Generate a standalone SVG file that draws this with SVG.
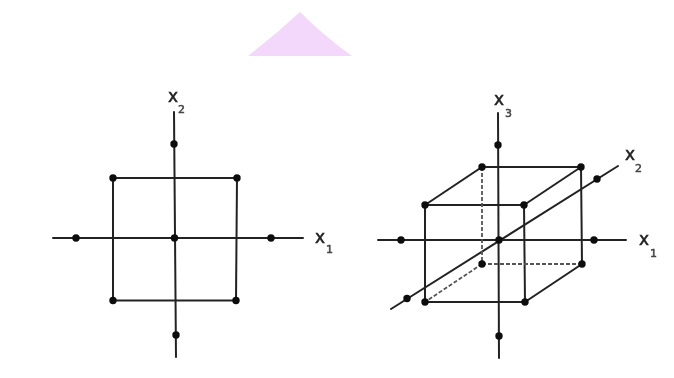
<svg xmlns="http://www.w3.org/2000/svg" width="674" height="378" viewBox="0 0 674 378">
<defs>
<style>
.l{fill:none;stroke:#222;stroke-width:2;stroke-linecap:round}
.d{fill:none;stroke:#555;stroke-width:1.800;stroke-dasharray:4 2}
.p{fill:#0c0c0c}
.t{font-family:"DejaVu Sans",sans-serif;fill:#222;stroke:#222;stroke-width:.5}
.m{font-size:17px}
.s{font-size:11px;fill:#444;stroke:#444}
</style>
<filter id="b" x="-5%" y="-5%" width="110%" height="110%"><feGaussianBlur stdDeviation="0.45"/></filter>
</defs>
<rect width="674" height="378" fill="#fff"/>
<path id="triangle" d="M300 12Q274 36 248 56H352Q324 36 300 12Z" fill="#f3d8fb"/>
<g filter="url(#b)">
<g id="connectors">
<g id="left-connectors">
<path class="l" d="M174 112L176 357M53 238H303"/>
<path class="l" d="M113 178H237L236 300.500H113Z"/>
</g>
<g id="right-connectors">
<path class="l" d="M498 113L499 358M378 240H626M391 309L618 166"/>
<path class="l" d="M425 205H524L525 302H425ZM425 205L482 167H581L582 264L525 302M524 205L581 167"/>
<path class="d" d="M482 167V264M482 264H582M482 264L425 302"/>
</g>
</g>
<g id="left-axes-points" class="p">
<circle cx="174" cy="144" r="3.700"/><circle cx="176" cy="335" r="3.700"/><circle cx="76" cy="238" r="3.700"/><circle cx="271" cy="238" r="3.700"/><circle cx="174.500" cy="238" r="3.700"/>
</g>
<g id="left-square-points" class="p">
<circle cx="113" cy="178" r="3.700"/><circle cx="237" cy="178" r="3.700"/><circle cx="113" cy="300.500" r="3.700"/><circle cx="236" cy="300.500" r="3.700"/>
</g>
<g id="right-axes-points" class="p">
<circle cx="498" cy="145" r="3.700"/><circle cx="499" cy="336" r="3.700"/><circle cx="401" cy="240" r="3.700"/><circle cx="594" cy="240" r="3.700"/><circle cx="499" cy="240" r="3.700"/><circle cx="407" cy="298.500" r="3.700"/><circle cx="597" cy="179" r="3.700"/>
</g>
<g id="right-cube-points" class="p">
<circle cx="425" cy="205" r="3.700"/><circle cx="524" cy="205" r="3.700"/><circle cx="425" cy="302" r="3.700"/><circle cx="525" cy="302" r="3.700"/><circle cx="482" cy="167" r="3.700"/><circle cx="581" cy="167" r="3.700"/><circle cx="482" cy="264" r="3.700"/><circle cx="582" cy="264" r="3.700"/>
</g>
<g id="labels">
<text class="t m" x="168" y="102">x</text><text class="t s" x="178" y="113">2</text>
<text class="t m" x="315" y="243">x</text><text class="t s" x="326" y="253">1</text>
<text class="t m" x="494" y="105">x</text><text class="t s" x="505" y="117">3</text>
<text class="t m" x="625" y="160">x</text><text class="t s" x="635" y="172">2</text>
<text class="t m" x="639" y="245">x</text><text class="t s" x="650" y="257">1</text>
</g>
</g>
</svg>
